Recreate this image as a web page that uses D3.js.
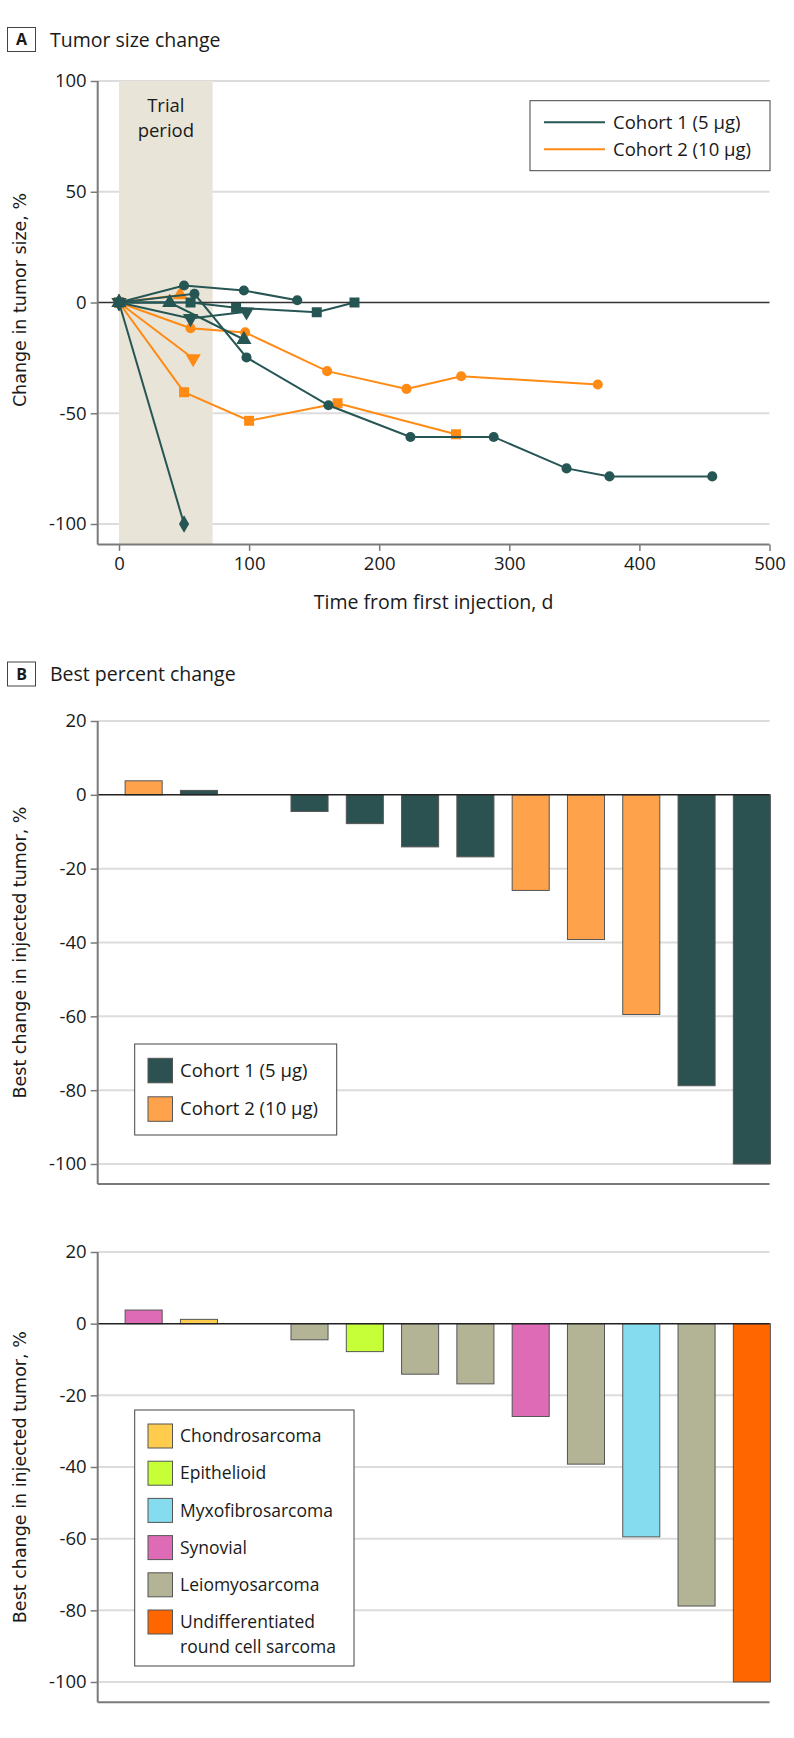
<!DOCTYPE html>
<html><head><meta charset="utf-8">
<script src="https://cdn.jsdelivr.net/npm/d3@7"></script>
<style>
body{margin:0;background:#fff;}
svg text{font-family:"Open Sans",sans-serif;fill:#1a1a1a;}
</style></head><body>
<svg id="chart" width="794" height="1738"></svg>
<script>
// ---------- DATA ----------
const timeTicks = [0, 100, 200, 300, 400, 500];
const changeTicksA = [100, 50, 0, -50, -100];
const trialPeriod = [0, 72];
const cohortNames = ["Cohort 1 (5 µg)", "Cohort 2 (10 µg)"];

const lineCohort = [1, 1, 1, 1, 1, 1, 2, 2, 2, 2];
const lineShape = ["circle", "circle", "triangle", "square", "triangleDown", "diamond",
                   "triangle", "circle", "triangleDown", "square"];
const lineDays = [
  [0, 50, 96, 137],
  [0, 58, 98, 161, 224, 288, 344, 377, 456],
  [0, 39, 96],
  [0, 55, 90, 152, 181],
  [0, 55, 98],
  [0, 50],
  [0, 47],
  [0, 55, 97, 160, 221, 263, 368],
  [0, 57],
  [0, 50, 100, 168, 259]
];
const lineChange = [
  [0, 7.7, 5.4, 1.0],
  [0, 3.9, -24.8, -46.4, -60.7, -60.7, -74.9, -78.5, -78.5],
  [0, 0, -16.7],
  [0, 0, -2.4, -4.4, 0],
  [0, -7.2, -4.2],
  [0, -100],
  [0, 3.4],
  [0, -11.6, -13.5, -31, -39, -33.3, -37],
  [0, -25.3],
  [0, -40.5, -53.4, -45.5, -59.5]
];

const barTicks = [20, 0, -20, -40, -60, -80, -100];
const barValues = [3.8, 1.2, 0, -4.5, -7.8, -14.1, -16.8, -25.9, -39.2, -59.5, -78.8, -100];
const barCohort = [2, 1, 1, 1, 1, 1, 1, 2, 2, 2, 1, 1];
const barHistology = ["Synovial", "Chondrosarcoma", "Leiomyosarcoma", "Leiomyosarcoma", "Epithelioid",
  "Leiomyosarcoma", "Leiomyosarcoma", "Synovial", "Leiomyosarcoma", "Myxofibrosarcoma",
  "Leiomyosarcoma", "Undifferentiated round cell sarcoma"];
const histologyNames = ["Chondrosarcoma", "Epithelioid", "Myxofibrosarcoma", "Synovial",
  "Leiomyosarcoma", "Undifferentiated round cell sarcoma"];

// ---------- STYLE ----------
const lineColors = {1: "#265654", 2: "#ff8a14"};
const barColors = {1: "#2b5251", 2: "#ffa24c"};
const histColors = {
  "Chondrosarcoma": "#ffcc4d", "Epithelioid": "#c6ff38", "Myxofibrosarcoma": "#84dcee",
  "Synovial": "#de6bb6", "Leiomyosarcoma": "#b3b395", "Undifferentiated round cell sarcoma": "#ff6600"
};
const gridColor = "#dcdcdc", axisColor = "#7a7a7a";

const svg = d3.select("#chart");

function panelTitle(letter, text, y0) {
  svg.append("rect").attr("x", 7.5).attr("y", y0).attr("width", 28).attr("height", 24)
    .attr("fill", "#fff").attr("stroke", "#444").attr("stroke-width", 1);
  svg.append("text").attr("x", 21.5).attr("y", y0 + 12).attr("dy", "0.36em")
    .attr("text-anchor", "middle").style("font-weight", "700").style("font-size", "16px").text(letter);
  svg.append("text").attr("x", 50).attr("y", y0 + 12).attr("dy", "0.36em")
    .style("font-size", "19.5px").text(text);
}

// ---------- PANEL A ----------
panelTitle("A", "Tumor size change", 27.5);
const axL = 97.7, axR = 769.5;
const xA = d3.scaleLinear().domain([0, 500]).range([119, 769.5]);
const yA = d3.scaleLinear().domain([-100, 100]).range([524, 81]);
const axBottomA = yA(-109.2);

const gA = svg.append("g");
gA.selectAll("line.grid").data(changeTicksA.filter(d => d !== 0)).join("line")
  .attr("x1", axL).attr("x2", axR).attr("y1", d => yA(d)).attr("y2", d => yA(d))
  .attr("stroke", gridColor).attr("stroke-width", 2);
gA.append("rect").attr("x", xA(trialPeriod[0])).attr("width", xA(trialPeriod[1]) - xA(trialPeriod[0]))
  .attr("y", yA(100)).attr("height", axBottomA - yA(100)).attr("fill", "#e8e4d7");
gA.append("text").attr("x", xA((trialPeriod[0] + trialPeriod[1]) / 2)).attr("y", 106).attr("dy", "0.35em")
  .attr("text-anchor", "middle").style("font-size", "18.5px").text("Trial");
gA.append("text").attr("x", xA((trialPeriod[0] + trialPeriod[1]) / 2)).attr("y", 131).attr("dy", "0.35em")
  .attr("text-anchor", "middle").style("font-size", "18.5px").text("period");
gA.append("line").attr("x1", axL).attr("x2", axR).attr("y1", yA(0)).attr("y2", yA(0))
  .attr("stroke", "#333").attr("stroke-width", 1.6);

const yAxisA = d3.axisLeft(yA).tickValues(changeTicksA).tickFormat(d => String(d)).tickSize(7).tickPadding(4);
const gyA = gA.append("g").attr("transform", `translate(${axL},0)`).call(yAxisA);
gyA.select(".domain").remove();
gyA.selectAll(".tick line").attr("stroke", axisColor).attr("stroke-width", 1.5);
gyA.selectAll(".tick text").style("font-size", "18.5px").style("font-family", "Open Sans").attr("fill", "#1a1a1a");
gA.append("line").attr("x1", axL).attr("x2", axL).attr("y1", yA(100)).attr("y2", axBottomA)
  .attr("stroke", axisColor).attr("stroke-width", 2);
const xAxisA = d3.axisBottom(xA).tickValues(timeTicks).tickFormat(d => String(d)).tickSize(6.5).tickPadding(6);
const gxA = gA.append("g").attr("transform", `translate(0,${axBottomA})`).call(xAxisA);
gxA.select(".domain").remove();
gxA.selectAll(".tick line").attr("stroke", axisColor).attr("stroke-width", 1.5);
gxA.selectAll(".tick text").style("font-size", "18.5px").style("font-family", "Open Sans").attr("fill", "#1a1a1a");
gA.append("line").attr("x1", axL).attr("x2", axR).attr("y1", axBottomA).attr("y2", axBottomA)
  .attr("stroke", axisColor).attr("stroke-width", 2);
gA.append("text").attr("x", (axL + axR) / 2).attr("y", 602).attr("dy", "0.35em").attr("text-anchor", "middle")
  .style("font-size", "19.5px").text("Time from first injection, d");
gA.append("text").attr("transform", `translate(20,300) rotate(-90)`)
  .attr("dy", "0.35em").attr("text-anchor", "middle")
  .style("font-family", "DejaVu Sans").style("font-size", "17.5px").text("Change in tumor size, %");

const lineGen = d3.line().x(d => xA(d[0])).y(d => yA(d[1]));
const symbolFor = {
  circle: d3.symbol().type(d3.symbolCircle).size(80),
  square: d3.symbol().type(d3.symbolSquare).size(100),
  triangle: d3.symbol().type(d3.symbolTriangle).size(100),
  triangleDown: d3.symbol().type(d3.symbolTriangle).size(100),
  diamond: d3.symbol().type(d3.symbolDiamond).size(90)
};
const order = d3.range(lineDays.length).sort((a, b) => lineCohort[b] - lineCohort[a]);
order.forEach(i => {
  const pts = lineDays[i].map((d, j) => [d, lineChange[i][j]]);
  const col = lineColors[lineCohort[i]];
  gA.append("path").datum(pts).attr("d", lineGen).attr("fill", "none")
    .attr("stroke", col).attr("stroke-width", 2);
  gA.selectAll(null).data(pts).join("path")
    .attr("d", symbolFor[lineShape[i]]())
    .attr("transform", d => `translate(${xA(d[0])},${yA(d[1])})` + (lineShape[i] === "triangleDown" ? " rotate(180)" : ""))
    .attr("fill", col);
});

const legA = svg.append("g");
legA.append("rect").attr("x", 530).attr("y", 100.7).attr("width", 240).attr("height", 70)
  .attr("fill", "#fff").attr("stroke", "#444").attr("stroke-width", 1);
cohortNames.forEach((n, i) => {
  const yy = 122.3 + i * 27;
  legA.append("line").attr("x1", 544).attr("x2", 605).attr("y1", yy).attr("y2", yy)
    .attr("stroke", lineColors[i + 1]).attr("stroke-width", 2);
  legA.append("text").attr("x", 613).attr("y", yy).attr("dy", "0.35em").style("font-size", "18.5px").text(n);
});

// ---------- PANELS B & C ----------
panelTitle("B", "Best percent change", 662);

function barPanel(top, bottomData, bottomAxis, colorOf) {
  const y = d3.scaleLinear().domain([-100, 20]).range([bottomData, top]);
  const x = d3.scaleBand().domain(d3.range(barValues.length)).range([116, 779.5])
    .paddingInner(0.33).paddingOuter(0.165);
  const g = svg.append("g");
  g.selectAll("line.grid").data(barTicks.filter(d => d !== 0)).join("line")
    .attr("x1", axL).attr("x2", axR).attr("y1", d => y(d)).attr("y2", d => y(d))
    .attr("stroke", gridColor).attr("stroke-width", 2);
  g.selectAll("rect.bar").data(barValues).join("rect")
    .attr("x", (d, i) => x(i)).attr("width", x.bandwidth())
    .attr("y", d => Math.min(y(d), y(0))).attr("height", d => Math.abs(y(d) - y(0)))
    .attr("fill", (d, i) => colorOf(i)).attr("stroke", "#555").attr("stroke-width", 1);
  g.append("line").attr("x1", axL).attr("x2", axR).attr("y1", y(0)).attr("y2", y(0))
    .attr("stroke", "#222").attr("stroke-width", 1.5);
  const gy = g.append("g").attr("transform", `translate(${axL},0)`)
    .call(d3.axisLeft(y).tickValues(barTicks).tickFormat(d => String(d)).tickSize(7).tickPadding(4));
  gy.select(".domain").remove();
  gy.selectAll(".tick line").attr("stroke", axisColor).attr("stroke-width", 1.5);
  gy.selectAll(".tick text").style("font-size", "18.5px").style("font-family", "Open Sans").attr("fill", "#1a1a1a");
  g.append("line").attr("x1", axL).attr("x2", axL).attr("y1", top).attr("y2", bottomAxis)
    .attr("stroke", axisColor).attr("stroke-width", 2);
  g.append("line").attr("x1", axL).attr("x2", axR).attr("y1", bottomAxis).attr("y2", bottomAxis)
    .attr("stroke", axisColor).attr("stroke-width", 2);
  g.append("text").attr("transform", `translate(20,${(top + bottomAxis) / 2}) rotate(-90)`)
    .attr("dy", "0.35em").attr("text-anchor", "middle")
    .style("font-family", "DejaVu Sans").style("font-size", "17.5px").text("Best change in injected tumor, %");
  return g;
}

barPanel(721, 1164, 1184, i => barColors[barCohort[i]]);
barPanel(1252, 1682, 1702.3, i => histColors[barHistology[i]]);

const legB = svg.append("g");
legB.append("rect").attr("x", 134.7).attr("y", 1044).attr("width", 202).attr("height", 91)
  .attr("fill", "#fff").attr("stroke", "#444").attr("stroke-width", 1);
cohortNames.forEach((n, i) => {
  const cy = 1070.5 + i * 38.5;
  legB.append("rect").attr("x", 148).attr("y", cy - 12.2).attr("width", 24.5).attr("height", 24.5)
    .attr("fill", barColors[i + 1]).attr("stroke", "#555").attr("stroke-width", 1);
  legB.append("text").attr("x", 180).attr("y", cy).attr("dy", "0.35em").style("font-size", "18.5px").text(n);
});

const legC = svg.append("g");
legC.append("rect").attr("x", 134.7).attr("y", 1410).attr("width", 219.3).attr("height", 256)
  .attr("fill", "#fff").attr("stroke", "#444").attr("stroke-width", 1);
histologyNames.forEach((n, i) => {
  const cy = 1436 + i * 37.2;
  legC.append("rect").attr("x", 148).attr("y", cy - 12).attr("width", 24.5).attr("height", 24)
    .attr("fill", histColors[n]).attr("stroke", "#555").attr("stroke-width", 1);
  const words = n === "Undifferentiated round cell sarcoma" ? ["Undifferentiated", "round cell sarcoma"] : [n];
  words.forEach((w, k) => {
    legC.append("text").attr("x", 180).attr("y", cy + k * 25).attr("dy", "0.35em")
      .style("font-size", "17.5px").text(w);
  });
});
</script>
</body></html>
